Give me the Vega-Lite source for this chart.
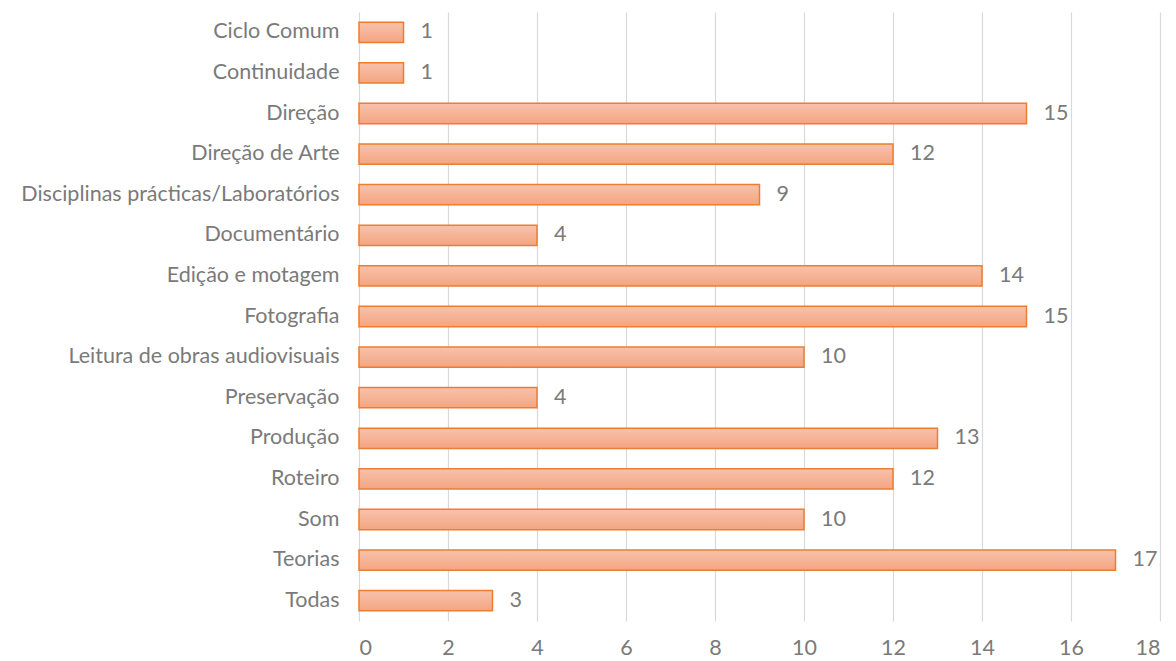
{
  "$schema": "https://vega.github.io/schema/vega-lite/v6.json",
  "autosize": {"type": "none"},
  "width": 801,
  "height": 609,
  "padding": {"left": 359, "top": 12, "right": 16, "bottom": 40},
  "background": "white",
  "config": {"view": {"stroke": null}},
  "data": {"values": [
    {"cat": "Ciclo Comum", "v": 1},
    {"cat": "Continuidade", "v": 1},
    {"cat": "Direção ", "v": 15},
    {"cat": "Direção de Arte", "v": 12},
    {"cat": "Disciplinas prácticas/Laboratórios", "v": 9},
    {"cat": "Documentário", "v": 4},
    {"cat": "Edição e motagem", "v": 14},
    {"cat": "Fotografia", "v": 15},
    {"cat": "Leitura de obras audiovisuais", "v": 10},
    {"cat": "Preservação", "v": 4},
    {"cat": "Produção", "v": 13},
    {"cat": "Roteiro", "v": 12},
    {"cat": "Som", "v": 10},
    {"cat": "Teorias", "v": 17},
    {"cat": "Todas", "v": 3}
  ]},
  "encoding": {
    "y": {"field": "cat", "type": "nominal", "sort": null,
      "scale": {"paddingInner": 0.5, "paddingOuter": 0.25},
      "axis": {"title": null, "domain": false, "ticks": false, "labelPadding": 20,
        "labelFont": "Lato", "labelFontSize": 21.5, "labelColor": "#7a7a7a", "labelLimit": 400}},
    "x": {"field": "v", "type": "quantitative",
      "scale": {"domain": [0, 18], "nice": false},
      "axis": {"title": null, "values": [0,2,4,6,8,10,12,14,16,18], "domain": false, "ticks": false,
        "grid": true, "gridColor": "#d9d9d9", "gridWidth": 1.2, "labelPadding": 16,
        "labelFont": "Lato", "labelFontSize": 21.5, "labelColor": "#7a7a7a"}}
  },
  "layer": [
    {"mark": {"type": "bar", "stroke": "#ED7D31", "strokeWidth": 1.5,
      "color": {"gradient": "linear", "x1": 0, "y1": 0, "x2": 0, "y2": 1,
        "stops": [{"offset": 0, "color": "#F8C2AC"}, {"offset": 1, "color": "#F3A581"}]}}},
    {"mark": {"type": "text", "align": "left", "dx": 17, "font": "Lato", "fontSize": 21.5, "color": "#7a7a7a"},
      "encoding": {"text": {"field": "v", "type": "quantitative"}}}
  ]
}
